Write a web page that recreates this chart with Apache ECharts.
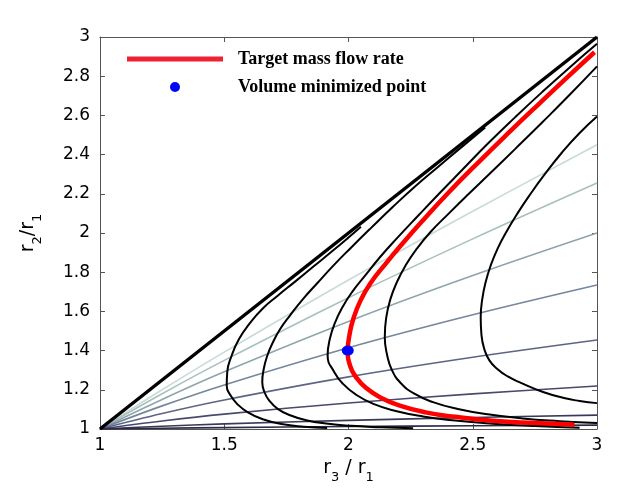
<!DOCTYPE html>
<html>
<head>
<meta charset="utf-8">
<script src="https://cdn.jsdelivr.net/npm/echarts@6/dist/echarts.min.js"></script>
<style>html,body{margin:0;padding:0;background:#fff;}#c{width:635px;height:494px;}</style>
</head>
<body>
<div id="c"></div>
<script>
// x positions at which the fan lines were read
const rayX = [1, 1.25, 1.5, 2, 2.5, 3];
const ray1 = [1, 1.200, 1.392, 1.760, 2.111, 2.450];
const ray2 = [1, 1.180, 1.350, 1.670, 1.970, 2.255];
const ray3 = [1, 1.151, 1.292, 1.549, 1.783, 2.000];
const ray4 = [1, 1.118, 1.225, 1.415, 1.583, 1.735];
const ray5 = [1, 1.079, 1.148, 1.266, 1.366, 1.454];
const ray6 = [1, 1.041, 1.076, 1.133, 1.179, 1.219];
const ray7 = [1, 1.014, 1.026, 1.044, 1.059, 1.071];
const ray8 = [1, 1.004, 1.007, 1.0125, 1.0166, 1.020];
const rayColors = ['#c8dbd7', '#a7c0bf', '#8fa5ab', '#76879c', '#5d6484', '#474a6d', '#383a5a', '#2b2b45'];

// boundary r2 = r3
const diagonal = [[1, 1], [3, 3]];

// iso-curves (black), read from bottom end, through the nose, to the top end
const curveA = [[1.914,1.005],[1.82,1.012],[1.73,1.026],[1.655,1.05],[1.595,1.085],[1.552,1.128],[1.525,1.172],[1.51,1.22],[1.512,1.29],[1.53,1.375],[1.56,1.46],[1.603,1.54],[1.655,1.615],[1.715,1.68],[1.785,1.752],[1.86,1.83],[1.94,1.913],[2.0,1.977],[2.05,2.032]];
const curveB = [[2.26,1.004],[2.13,1.009],[2.01,1.016],[1.91,1.028],[1.83,1.045],[1.765,1.07],[1.715,1.103],[1.681,1.145],[1.661,1.19],[1.653,1.24],[1.658,1.30],[1.672,1.37],[1.695,1.44],[1.725,1.51],[1.765,1.58],[1.815,1.66],[1.875,1.745],[1.94,1.835],[2.01,1.925],[2.09,2.025],[2.18,2.135],[2.27,2.24],[2.36,2.337],[2.45,2.433],[2.55,2.538]];
const curveC = [[2.93,1.007],[2.75,1.015],[2.58,1.027],[2.43,1.043],[2.30,1.064],[2.19,1.092],[2.10,1.128],[2.03,1.175],[1.978,1.23],[1.943,1.29],[1.916,1.375],[1.925,1.46],[1.945,1.54],[1.975,1.62],[2.015,1.70],[2.065,1.78],[2.129,1.88],[2.2,1.98],[2.28,2.088],[2.37,2.208],[2.46,2.325],[2.56,2.455],[2.67,2.59],[2.78,2.72],[2.89,2.845],[3.0,2.965]];
const curveD = [[3,1.03],[2.85,1.04],[2.70,1.054],[2.56,1.075],[2.44,1.102],[2.34,1.137],[2.265,1.18],[2.21,1.235],[2.175,1.30],[2.155,1.38],[2.146,1.47],[2.152,1.57],[2.168,1.66],[2.195,1.75],[2.23,1.835],[2.275,1.92],[2.33,2.005],[2.40,2.095],[2.48,2.195],[2.57,2.305],[2.67,2.428],[2.78,2.565],[2.89,2.705],[3.0,2.85]];
const curveE = [[3,1.132],[2.93,1.143],[2.867,1.158],[2.78,1.19],[2.694,1.235],[2.641,1.268],[2.60,1.305],[2.567,1.35],[2.546,1.41],[2.535,1.48],[2.532,1.57],[2.538,1.66],[2.552,1.75],[2.573,1.837],[2.60,1.92],[2.635,2.005],[2.68,2.10],[2.73,2.195],[2.79,2.30],[2.86,2.412],[2.93,2.51],[3.0,2.594]];

// target mass flow rate (red)
const targetCurve = [[2.91,1.022],[2.75,1.03],[2.58,1.042],[2.43,1.062],[2.31,1.085],[2.21,1.118],[2.13,1.16],[2.07,1.21],[2.03,1.265],[2.007,1.32],[1.997,1.40],[2.004,1.48],[2.02,1.565],[2.05,1.66],[2.089,1.745],[2.15,1.844],[2.22,1.95],[2.30,2.065],[2.40,2.203],[2.532,2.372],[2.65,2.518],[2.77,2.663],[2.88,2.794],[2.99,2.922]];
// volume minimized point
const minPoint = [[1.997, 1.40]];

const xTicks = {min: 1, max: 3, interval: 0.5};
const yTicks = {min: 1, max: 3, interval: 0.2};

const chart = echarts.init(document.getElementById('c'), null, {renderer: 'canvas'});

const series = [];
const rays = [ray1, ray2, ray3, ray4, ray5, ray6, ray7, ray8];
rays.forEach((r, i) => {
  series.push({
    type: 'line', name: 'ray' + i, data: rayX.map((x, j) => [x, r[j]]),
    smooth: 0.35, showSymbol: false, symbol: 'none', silent: true,
    lineStyle: {color: rayColors[i], width: 1.6}, z: 2
  });
});
[curveA, curveB, curveC, curveD, curveE].forEach((c, i) => {
  series.push({
    type: 'line', name: 'iso' + i, data: c, smooth: 0.5, symbol: 'none', silent: true,
    lineStyle: {color: '#000', width: 2}, z: 3
  });
});
series.push({
  type: 'line', name: 'diag', data: diagonal, symbol: 'none', silent: true,
  lineStyle: {color: '#000', width: 3.5}, z: 4
});
series.push({
  type: 'line', name: 'Target mass flow rate', data: targetCurve, smooth: 0.5, symbol: 'none',
  lineStyle: {color: '#ff0000', width: 4.5}, itemStyle: {color: '#ee2233'}, z: 5
});
series.push({
  type: 'scatter', name: 'Volume minimized point', data: minPoint, symbol: 'circle',
  symbolSize: [12, 10], itemStyle: {color: '#0000ff', opacity: 1}, z: 6
});

const tickFont = {fontFamily: 'DejaVu Sans', fontSize: 17, color: '#000'};
const axisLine = {show: true, lineStyle: {color: '#555', width: 1}};
const legendText = {fontFamily: 'Liberation Serif', fontWeight: 'bold', fontSize: 18, color: '#000'};

chart.setOption({
  animation: false,
  backgroundColor: '#fff',
  grid: {left: 100, right: 38, top: 37, bottom: 65, containLabel: false},
  legend: [
    {
      data: [{name: 'Target mass flow rate', icon: 'rect'}],
      left: 127, top: 50, padding: 0, itemWidth: 96, itemHeight: 5,
      textStyle: Object.assign({padding: [0, 0, 0, 10]}, legendText),
      selectedMode: false
    },
    {
      data: [{name: 'Volume minimized point', icon: 'circle', itemStyle: {color: '#0000ff', opacity: 1}}],
      left: 170, top: 78, padding: 0, itemWidth: 116, itemHeight: 10,
      textStyle: legendText,
      selectedMode: false
    }
  ],
  xAxis: [
    {
      type: 'value', min: xTicks.min, max: xTicks.max, interval: xTicks.interval, position: 'bottom',
      axisLine: axisLine, axisTick: {show: true, inside: true, length: 5, lineStyle: {color: '#555'}},
      splitLine: {show: false},
      axisLabel: Object.assign({margin: 8}, tickFont),
      name: '{r|r}{s|3}{r| / r}{s|1}', nameLocation: 'middle', nameGap: 21,
      nameTextStyle: {rich: {
        r: {fontFamily: 'DejaVu Sans', fontSize: 19, color: '#000', verticalAlign: 'bottom'},
        s: {fontFamily: 'DejaVu Sans', fontSize: 13, color: '#000', verticalAlign: 'bottom', padding: [0, 0, -6, 0]}
      }}
    },
    {
      type: 'value', min: xTicks.min, max: xTicks.max, interval: xTicks.interval, position: 'top',
      axisLine: axisLine, axisTick: {show: true, inside: true, length: 5, lineStyle: {color: '#555'}},
      axisLabel: {show: false}, splitLine: {show: false}
    }
  ],
  yAxis: [
    {
      type: 'value', min: yTicks.min, max: yTicks.max, interval: yTicks.interval, position: 'left',
      axisLine: axisLine, axisTick: {show: true, inside: true, length: 5, lineStyle: {color: '#555'}},
      splitLine: {show: false},
      axisLabel: Object.assign({margin: 10}, tickFont),
      name: '{r|r}{s|2}{r|/r}{s|1}', nameLocation: 'middle', nameGap: 62, nameRotate: 90,
      nameTextStyle: {rich: {
        r: {fontFamily: 'DejaVu Sans', fontSize: 19, color: '#000', verticalAlign: 'bottom'},
        s: {fontFamily: 'DejaVu Sans', fontSize: 13, color: '#000', verticalAlign: 'bottom', padding: [0, 0, -6, 0]}
      }}
    },
    {
      type: 'value', min: yTicks.min, max: yTicks.max, interval: yTicks.interval, position: 'right',
      axisLine: axisLine, axisTick: {show: true, inside: true, length: 5, lineStyle: {color: '#555'}},
      axisLabel: {show: false}, splitLine: {show: false}
    }
  ],
  series: series
});
</script>
</body>
</html>
